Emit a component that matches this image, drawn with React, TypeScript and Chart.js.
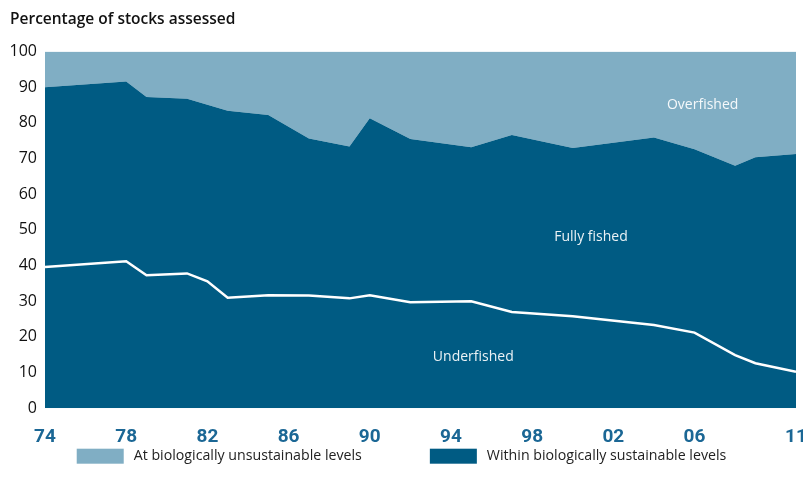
import React, { useEffect, useRef } from "react";
import { Chart, registerables } from "chart.js";

Chart.register(...registerables);

// Years where the boundaries change direction
const sustainableYears = [1974, 1978, 1979, 1981, 1983, 1985, 1987, 1989, 1990, 1992, 1995, 1997, 2000, 2004, 2006, 2008, 2009, 2011];
const sustainable = [90, 91.6, 87.3, 86.8, 83.4, 82.2, 75.6, 73.4, 81.3, 75.5, 73.2, 76.6, 73, 75.9, 72.6, 68, 70.4, 71.3];

const underfishedYears = [1974, 1978, 1979, 1981, 1982, 1983, 1985, 1987, 1989, 1990, 1992, 1995, 1997, 2000, 2004, 2006, 2008, 2009, 2011];
const underfished = [39.6, 41.2, 37.3, 37.8, 35.6, 31, 31.7, 31.6, 30.8, 31.7, 29.7, 30, 27, 25.8, 23.3, 21.2, 14.9, 12.6, 10.2];

const tickYears = [1974, 1978, 1982, 1986, 1990, 1994, 1998, 2002, 2006, 2011];
const tickLabels = ["74", "78", "82", "86", "90", "94", "98", "02", "06", "11"];
const yTicks = [0, 10, 20, 30, 40, 50, 60, 70, 80, 90, 100];

const regionLabels = ["Overfished", "Fully fished", "Underfished"];
const regionLabelYears = [2006.4, 2000.9, 1995.1];
const regionLabelValues = [85, 48, 14.4];

const legendLabels = ["At biologically unsustainable levels", "Within biologically sustainable levels"];

const LIGHT = "#80aec4";
const DARK = "#005b83";
const FONT = "'Open Sans', 'Noto Sans', sans-serif";
const LEGEND_COLORS = [LIGHT, DARK];

const regionLabelPlugin = {
  id: "regionLabels",
  afterDatasetsDraw(chart: any) {
    const { ctx, scales } = chart;
    ctx.save();
    ctx.fillStyle = "rgba(255,255,255,0.92)";
    ctx.font = `14px ${FONT}`;
    ctx.textAlign = "center";
    ctx.textBaseline = "middle";
    regionLabels.forEach((t, i) => {
      ctx.fillText(t, scales.x.getPixelForValue(regionLabelYears[i]), scales.y.getPixelForValue(regionLabelValues[i]));
    });
    ctx.restore();
  },
};

// Legend drawn in the bottom space reserved by layout padding
const bottomLegendPlugin = {
  id: "bottomLegend",
  afterDraw(chart: any) {
    const { ctx, width } = chart;
    const boxW = 47, boxH = 15, gap = 10, spacing = 68;
    ctx.save();
    ctx.font = `14.2px ${FONT}`;
    const widths = legendLabels.map((t) => boxW + gap + ctx.measureText(t).width);
    const total = widths.reduce((a, b) => a + b, 0) + spacing * (legendLabels.length - 1);
    let x = (width - total) / 2;
    const cy = chart.chartArea.bottom + 48;
    legendLabels.forEach((t, i) => {
      ctx.fillStyle = LEGEND_COLORS[i];
      ctx.fillRect(x, cy - boxH / 2, boxW, boxH);
      ctx.fillStyle = "#222";
      ctx.textAlign = "left";
      ctx.textBaseline = "middle";
      ctx.fillText(t, x + boxW + gap, cy);
      x += widths[i] + spacing;
    });
    ctx.restore();
  },
};

export default function App() {
  const ref = useRef<HTMLCanvasElement>(null);
  useEffect(() => {
    const sustPts = sustainableYears.map((x, i) => ({ x, y: sustainable[i] }));
    const underPts = underfishedYears.map((x, i) => ({ x, y: underfished[i] }));
    const chart = new Chart(ref.current!, {
      type: "line",
      data: {
        datasets: [
          {
            label: legendLabels[0],
            data: sustPts,
            fill: "end",
            backgroundColor: LIGHT,
            borderColor: LIGHT,
            borderWidth: 0,
            pointRadius: 0,
            tension: 0,
            order: 3,
          },
          {
            label: legendLabels[1],
            data: sustPts,
            fill: "origin",
            backgroundColor: DARK,
            borderColor: DARK,
            borderWidth: 0,
            pointRadius: 0,
            tension: 0,
            order: 2,
          },
          {
            label: "Underfished",
            data: underPts,
            fill: false,
            borderColor: "#ffffff",
            backgroundColor: "#ffffff",
            borderWidth: 2.5,
            pointRadius: 0,
            tension: 0,
            order: 1,
          },
        ],
      },
      options: {
        animation: false,
        responsive: false,
        maintainAspectRatio: false,
        layout: { padding: { left: 10, right: 7, top: 4, bottom: 25 } },
        plugins: {
          title: {
            display: true,
            text: "Percentage of stocks assessed",
            align: "start",
            color: "#111",
            font: { family: FONT, size: 15.5, weight: "600" },
            padding: { top: 6, bottom: 23 },
          },
          legend: { display: false },
          tooltip: { enabled: false },
        },
        scales: {
          x: {
            type: "linear",
            min: 1974,
            max: 2011,
            afterBuildTicks: (scale: any) => {
              scale.ticks = tickYears.map((v) => ({ value: v }));
            },
            afterFit: (scale: any) => {
              scale.paddingRight = 0;
              scale.paddingLeft = 0;
            },
            ticks: {
              autoSkip: false,
              maxRotation: 0,
              padding: 18,
              color: "#1b6795",
              font: { family: "'Roboto', sans-serif", size: 19, weight: "bold" },
              callback: (v: any) => {
                const i = tickYears.indexOf(Number(v));
                return i >= 0 ? tickLabels[i] : "";
              },
            },
            grid: { display: false, drawTicks: false },
            border: { display: false },
          },
          y: {
            min: 0,
            max: 100,
            afterBuildTicks: (scale: any) => {
              scale.ticks = yTicks.map((v) => ({ value: v }));
            },
            afterFit: (scale: any) => {
              scale.width = 35;
            },
            ticks: {
              padding: 8,
              color: "#111",
              font: { family: FONT, size: 16 },
            },
            grid: { display: false, drawTicks: false },
            border: { display: false },
          },
        },
      },
      plugins: [regionLabelPlugin, bottomLegendPlugin],
    });
    return () => chart.destroy();
  }, []);
  return (
    <div style={{ position: "fixed", left: 0, top: 0, width: 803, height: 492, background: "#fff" }}>
      <canvas ref={ref} width={803} height={492} />
    </div>
  );
}
